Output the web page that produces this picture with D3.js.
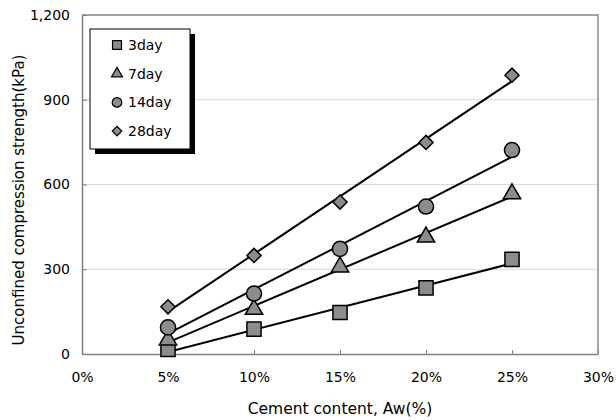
<!DOCTYPE html>
<html>
<head>
<meta charset="utf-8">
<script src="https://cdn.jsdelivr.net/npm/d3@7.9.0/dist/d3.min.js"></script>
<style>
  body { margin: 0; background: #fff; }
  svg { display: block; font-family: "DejaVu Sans", Verdana, sans-serif; }
</style>
</head>
<body>
<svg width="616" height="420"></svg>
<script>
// cement content (%) and strength (kPa) per curing age
const cement = [5, 10, 15, 20, 25];
const day3 = [16, 88, 147, 234, 335];
const day7 = [50, 158, 308, 414, 567];
const day14 = [94, 214, 372, 522, 722];
const day28 = [167, 349, 538, 749, 987];
const seriesNames = ['3day', '7day', '14day', '28day'];
const xTicks = [0, 5, 10, 15, 20, 25, 30];
const yTicks = [0, 300, 600, 900, 1200];

const series = [
  { name: seriesNames[0], values: day3, shape: 'square' },
  { name: seriesNames[1], values: day7, shape: 'triangle' },
  { name: seriesNames[2], values: day14, shape: 'circle' },
  { name: seriesNames[3], values: day28, shape: 'diamond' }
];

const svg = d3.select('svg');
const plotL = 82, plotR = 598, plotT = 15, plotB = 354;

const x = d3.scaleLinear().domain([0, 30]).range([plotL, plotR]);
const y = d3.scaleLinear().domain([0, 1200]).range([plotB, plotT]);

// gridlines
svg.append('g')
  .selectAll('line')
  .data(yTicks.filter(d => d > 0))
  .join('line')
  .attr('x1', plotL).attr('x2', plotR)
  .attr('y1', d => y(d)).attr('y2', d => y(d))
  .attr('stroke', '#d9d9d9').attr('stroke-width', 1);

// plot border (right + top)
svg.append('path')
  .attr('d', `M${plotL},${plotT}H${plotR}V${plotB}`)
  .attr('fill', 'none').attr('stroke', '#8c8c8c').attr('stroke-width', 1.5);

// axes
const xAxis = svg.append('g')
  .attr('transform', `translate(0,${plotB})`)
  .call(d3.axisBottom(x).tickValues(xTicks).tickSizeInner(-4).tickSizeOuter(0)
    .tickFormat(d => d + '%').tickPadding(18));
const yAxis = svg.append('g')
  .attr('transform', `translate(${plotL},0)`)
  .call(d3.axisLeft(y).tickValues(yTicks).tickSizeInner(-5).tickSizeOuter(0)
    .tickFormat(d3.format(',')).tickPadding(12));

[xAxis, yAxis].forEach(g => {
  g.select('.domain').attr('stroke', '#808080').attr('stroke-width', 1.5);
  g.selectAll('.tick line').attr('stroke', '#808080');
  g.selectAll('.tick text').attr('fill', '#000').attr('font-size', 14)
    .attr('font-family', '"DejaVu Sans", Verdana, sans-serif');
});

// axis titles
svg.append('text')
  .attr('x', 340).attr('y', 414)
  .attr('text-anchor', 'middle').attr('font-size', 15.5)
  .text('Cement content, Aw(%)');
svg.append('text')
  .attr('transform', 'translate(24,200) rotate(-90)')
  .attr('text-anchor', 'middle').attr('font-size', 15)
  .text('Unconfined compression strength(kPa)');

// linear trend lines
function fit(xs, ys) {
  const mx = d3.mean(xs), my = d3.mean(ys);
  const slope = d3.sum(xs, (v, i) => (v - mx) * (ys[i] - my)) / d3.sum(xs, v => (v - mx) ** 2);
  return v => my + slope * (v - mx);
}

const symbolType = {
  square: d3.symbolSquare,
  triangle: d3.symbolTriangle,
  circle: d3.symbolCircle,
  diamond: d3.symbolSquare
};
const symbolSize = { square: 200, triangle: 130, circle: 180, diamond: 100 };
const symbolRot = { square: 0, triangle: 0, circle: 0, diamond: 45 };

series.forEach(s => {
  const f = fit(cement, s.values);
  const ends = [cement[0], cement[cement.length - 1]];
  svg.append('line')
    .attr('x1', x(ends[0])).attr('y1', y(f(ends[0])))
    .attr('x2', x(ends[1])).attr('y2', y(f(ends[1])))
    .attr('stroke', '#000').attr('stroke-width', 2);
});

series.forEach(s => {
  svg.append('g')
    .selectAll('path')
    .data(s.values)
    .join('path')
    .attr('transform', (d, i) => `translate(${x(cement[i])},${y(d)}) rotate(${symbolRot[s.shape]})`)
    .attr('d', d3.symbol().type(symbolType[s.shape]).size(symbolSize[s.shape]))
    .attr('fill', '#8c8c8c').attr('stroke', '#000').attr('stroke-width', 1.5);
});

// legend with shadow
const lg = svg.append('g');
lg.append('rect').attr('x', 95).attr('y', 34).attr('width', 100).attr('height', 120).attr('fill', '#000');
lg.append('rect').attr('x', 90).attr('y', 29).attr('width', 100).attr('height', 120)
  .attr('fill', '#fff').attr('stroke', '#000').attr('stroke-width', 1);

series.forEach((s, i) => {
  const cy = 45 + i * 28.7;
  lg.append('path')
    .attr('transform', `translate(117,${cy}) rotate(${symbolRot[s.shape]})`)
    .attr('d', d3.symbol().type(symbolType[s.shape]).size(s.shape === 'diamond' ? 45 : symbolSize[s.shape] * 0.4))
    .attr('fill', '#8c8c8c').attr('stroke', '#000').attr('stroke-width', 1.2);
  lg.append('text')
    .attr('x', 128).attr('y', cy + 5)
    .attr('font-size', 14)
    .text(s.name);
});
</script>
</body>
</html>
